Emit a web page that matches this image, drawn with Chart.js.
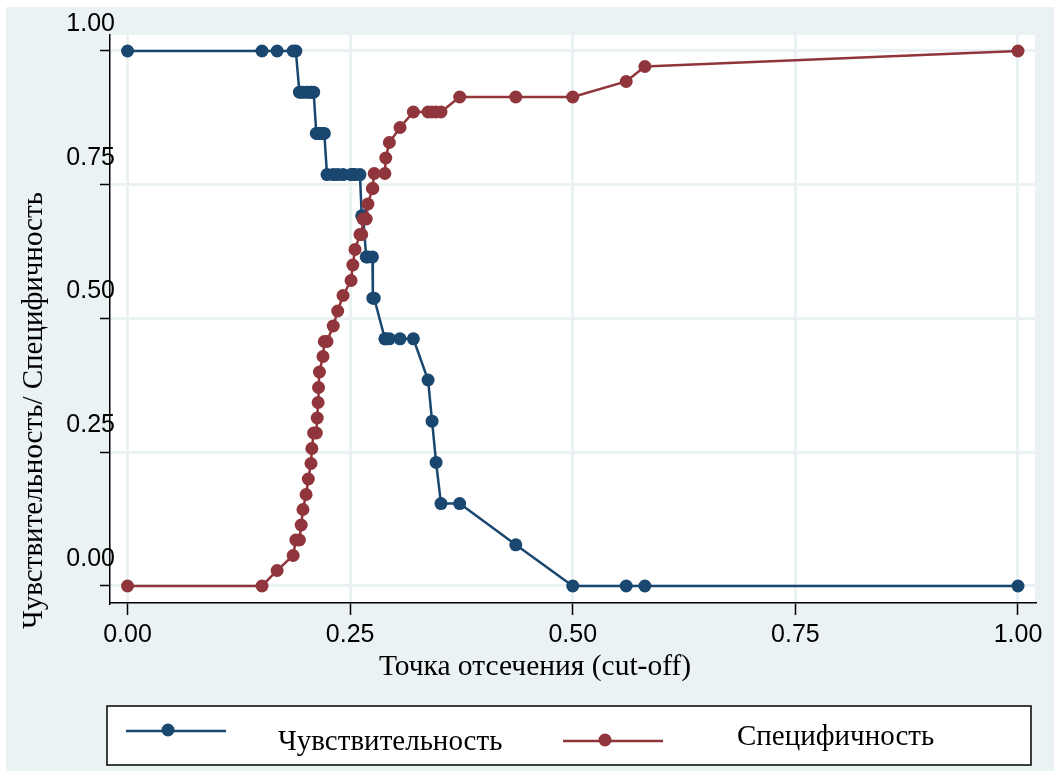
<!DOCTYPE html>
<html>
<head>
<meta charset="utf-8">
<script src="https://cdn.jsdelivr.net/npm/chart.js@4.4.1/dist/chart.umd.min.js"></script>
<style>
  html, body { margin: 0; padding: 0; background: #fff; }
  canvas { display: block; }
</style>
</head>
<body>
<canvas id="lsens" width="1060" height="772"></canvas>
<script>
// cut-off values (probability) and the two curves read at each cut-off
const cutoffs = [
  0.000, 0.151, 0.168, 0.186, 0.189, 0.193, 0.195, 0.197, 0.2005, 0.203,
  0.206, 0.207, 0.209, 0.212, 0.213, 0.214, 0.2145, 0.2155, 0.2195, 0.221,
  0.224, 0.231, 0.236, 0.242, 0.251, 0.253, 0.2555, 0.261, 0.263, 0.2645,
  0.268, 0.270, 0.275, 0.2755, 0.277, 0.289, 0.290, 0.294, 0.306, 0.321,
  0.3375, 0.342, 0.3465, 0.352, 0.373, 0.436, 0.500, 0.560, 0.581, 1.000
];
const sensitivity = [
  1, 1, 1, 1, 1, 0.923, 0.923, 0.923, 0.923, 0.923,
  0.923, 0.923, 0.923, 0.846, 0.846, 0.846, 0.846, 0.846, 0.846, 0.846,
  0.769, 0.769, 0.769, 0.769, 0.769, 0.769, 0.769, 0.769, 0.692, 0.692,
  0.615, 0.615, 0.615, 0.538, 0.538, 0.462, 0.462, 0.462, 0.462, 0.462,
  0.385, 0.308, 0.231, 0.154, 0.154, 0.077, 0, 0, 0, 0
];
const specificity = [
  0, 0, 0.029, 0.057, 0.086, 0.086, 0.114, 0.143, 0.171, 0.200,
  0.229, 0.257, 0.286, 0.286, 0.314, 0.343, 0.371, 0.400, 0.429, 0.457,
  0.457, 0.486, 0.514, 0.543, 0.571, 0.600, 0.629, 0.657, 0.657, 0.686,
  0.686, 0.714, 0.743, 0.743, 0.771, 0.771, 0.800, 0.829, 0.857, 0.886,
  0.886, 0.886, 0.886, 0.886, 0.914, 0.914, 0.914, 0.943, 0.971, 1
];
const tickValues = [0, 0.25, 0.5, 0.75, 1];
const seriesNames = ['Чувствительность', 'Специфичность'];
const xTitle = 'Точка отсечения (cut-off)';
const yTitle = 'Чувствительность/ Специфичность';

const BLUE = '#1a476f';
const RED = '#90353b';
const BG = '#eaf2f3';
const serif = '"Liberation Serif", "Times New Roman", serif';
const tickFont = { family: '"Liberation Sans", Arial, sans-serif', size: 25 };

// stata-ish frame: light region, white plot, titles and boxed legend
const frame = {
  id: 'frame',
  beforeDraw(chart) {
    const { ctx, chartArea: a } = chart;
    // y labels poke a few px past the axis line in the original, so don't clip them
    chart.scales.y._computeLabelArea = () => null;
    ctx.save();
    ctx.fillStyle = '#fff';
    ctx.fillRect(0, 0, chart.width, chart.height);
    ctx.fillStyle = BG;
    ctx.fillRect(6, 7, 1048, 764);
    ctx.fillStyle = '#fff';
    ctx.fillRect(a.left, a.top, a.right - a.left, a.bottom - a.top);
    ctx.restore();
  },
  afterDraw(chart) {
    const ctx = chart.ctx;
    ctx.save();
    ctx.fillStyle = '#000';
    ctx.font = '29.5px ' + serif;
    ctx.textAlign = 'center';
    ctx.textBaseline = 'alphabetic';
    ctx.fillText(xTitle, 535, 675);

    ctx.save();
    ctx.font = '29px ' + serif;
    ctx.translate(42, 629);
    ctx.rotate(-Math.PI / 2);
    ctx.textAlign = 'left';
    ctx.fillText(yTitle, 0, 0);
    ctx.restore();

    // legend
    ctx.fillStyle = '#fff';
    ctx.fillRect(107, 706, 924, 59);
    ctx.strokeStyle = '#000';
    ctx.lineWidth = 1.5;
    ctx.strokeRect(107, 706, 924, 59);

    ctx.font = '29px ' + serif;
    const items = [
      { color: BLUE, x0: 126, y: 731, text: seriesNames[0], tx: 278, ty: 750 },
      { color: RED, x0: 563, y: 741, text: seriesNames[1], tx: 737, ty: 745 }
    ];
    items.forEach(it => {
      ctx.strokeStyle = it.color;
      ctx.lineWidth = 2.5;
      ctx.beginPath();
      ctx.moveTo(it.x0, it.y);
      ctx.lineTo(it.x0 + 100, it.y);
      ctx.stroke();
      ctx.fillStyle = it.color;
      ctx.beginPath();
      ctx.arc(it.x0 + 42, it.y - 1, 6.5, 0, Math.PI * 2);
      ctx.fill();
      ctx.fillStyle = '#000';
      ctx.textAlign = 'left';
      ctx.fillText(it.text, it.tx, it.ty);
    });
    ctx.restore();
  }
};

const pts = arr => cutoffs.map((c, i) => ({ x: c, y: arr[i] }));

new Chart(document.getElementById('lsens'), {
  type: 'line',
  data: {
    datasets: [
      {
        label: seriesNames[0],
        data: pts(sensitivity),
        borderColor: BLUE,
        backgroundColor: BLUE,
        pointBackgroundColor: BLUE,
        borderWidth: 2.5,
        pointRadius: 6.5,
        pointBorderWidth: 0,
        order: 1
      },
      {
        label: seriesNames[1],
        data: pts(specificity),
        borderColor: RED,
        backgroundColor: RED,
        pointBackgroundColor: RED,
        borderWidth: 2.5,
        pointRadius: 6.5,
        pointBorderWidth: 0,
        order: 0
      }
    ]
  },
  options: {
    responsive: false,
    animation: false,
    events: [],
    layout: { padding: { top: 35, right: 25, bottom: 87, left: 0 } },
    plugins: { legend: { display: false }, tooltip: { enabled: false } },
    elements: { line: { tension: 0 } },
    scales: {
      x: {
        type: 'linear',
        min: -0.0197,
        max: 1.0191,
        afterBuildTicks: ax => { ax.ticks = tickValues.map(v => ({ value: v })); },
        afterFit: s => { s.height = 82; },
        ticks: {
          font: tickFont,
          color: '#000',
          padding: 5,
          maxRotation: 0,
          autoSkip: false,
          callback: v => v.toFixed(2)
        },
        grid: { color: BG, lineWidth: 3, tickColor: '#000', tickWidth: 1.5, tickLength: 12 },
        border: { color: '#000', width: 1.5 }
      },
      y: {
        type: 'linear',
        min: -0.0318,
        max: 1.0299,
        afterBuildTicks: ax => { ax.ticks = tickValues.map(v => ({ value: v })); },
        afterFit: s => { s.width = 110; },
        ticks: {
          font: tickFont,
          color: '#000',
          padding: -15,
          labelOffset: -27,
          autoSkip: false,
          callback: v => v.toFixed(2)
        },
        grid: { color: BG, lineWidth: 3, tickColor: '#000', tickWidth: 1.5, tickLength: 10 },
        border: { color: '#000', width: 1.5 }
      }
    }
  },
  plugins: [frame]
});
</script>
</body>
</html>
